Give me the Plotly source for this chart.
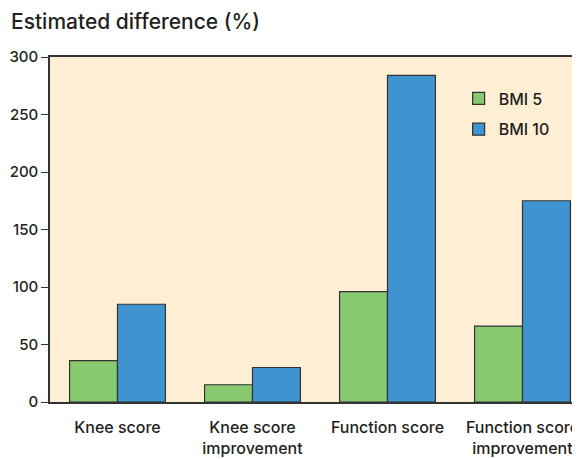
import plotly.graph_objects as go

categories = ["Knee score", "Knee score<br>improvement", "Function score", "Function score<br>improvement"]
bmi5 = [36, 15, 96, 66]
bmi10 = [85, 30, 284, 175]
series_names = ["BMI 5", "BMI 10"]
y_ticks = [0, 50, 100, 150, 200, 250, 300]

FONT = "Inter"
W = 500
TXT = "#231f20"
EDGE = "#333333"

fig = go.Figure()
fig.add_trace(go.Bar(x=categories, y=bmi5, name=series_names[0], legendgroup="a",
                     marker=dict(color="#86c96e", line=dict(color=EDGE, width=1.2))))
fig.add_trace(go.Bar(x=categories, y=bmi10, name=series_names[1], legendgroup="b",
                     marker=dict(color="#4093d1", line=dict(color=EDGE, width=1.2))))

# page body has an 8px margin, so the figure is sized and offset to compensate
fig.update_layout(
    width=572, height=451,
    margin=dict(l=42, r=0, t=49, b=57),
    paper_bgcolor="white",
    plot_bgcolor="#feefd4",
    barmode="group",
    bargap=0.29,
    bargroupgap=0,
    font=dict(family=FONT, color=TXT, size=16, weight=W),
    title=dict(text="Estimated difference (%)", x=3/572, xref="container", xanchor="left",
               y=1-14/451, yref="container", yanchor="middle", pad=dict(l=0),
               font=dict(family=FONT, size=21, color=TXT, weight=W)),
    legend=dict(x=0.771, y=0.929, xanchor="left", yanchor="top", bgcolor="rgba(0,0,0,0)",
                traceorder="grouped", tracegroupgap=7,
                font=dict(family=FONT, size=16, color=TXT, weight=W)),
    xaxis=dict(range=[-0.5, 3.426], showline=True, mirror=True, linecolor=EDGE, linewidth=1.5,
               ticks="", showgrid=False, tickfont=dict(family=FONT, size=16, weight=W),
               ticklabelstandoff=10, automargin=False),
    yaxis=dict(range=[0, 300], tickvals=y_ticks, showline=True, linecolor=EDGE, linewidth=1.5,
               ticks="outside", ticklen=7, tickcolor=EDGE, showgrid=False, zeroline=False,
               tickfont=dict(family=FONT, size=15, weight=W), automargin=False),
)

fig.write_html("out.html")
